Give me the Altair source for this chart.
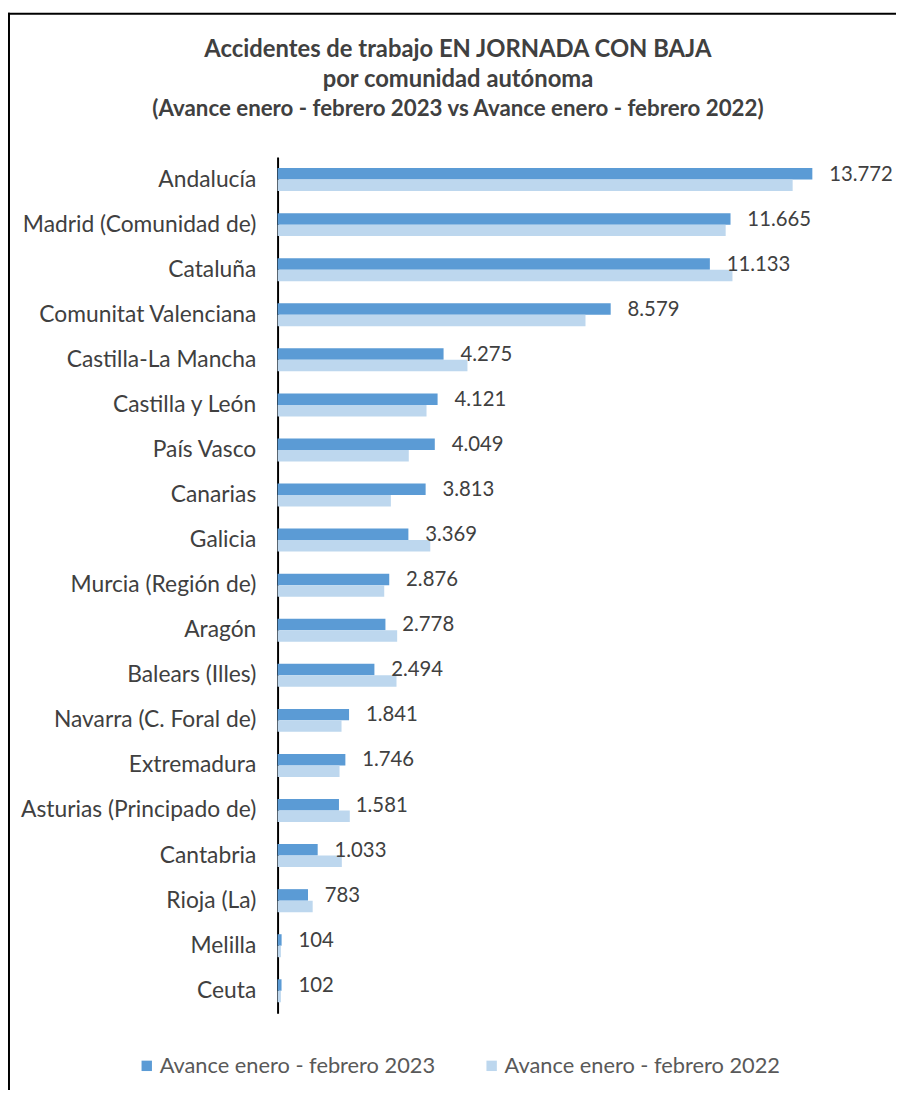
import altair as alt
import pandas as pd

categories = ["Andalucía", "Madrid (Comunidad de)", "Cataluña", "Comunitat Valenciana",
              "Castilla-La Mancha", "Castilla y León", "País Vasco", "Canarias", "Galicia",
              "Murcia (Región de)", "Aragón", "Balears (Illes)", "Navarra (C. Foral de)",
              "Extremadura", "Asturias (Principado de)", "Cantabria", "Rioja (La)",
              "Melilla", "Ceuta"]
v2023 = [13772, 11665, 11133, 8579, 4275, 4121, 4049, 3813, 3369, 2876, 2778, 2494,
         1841, 1746, 1581, 1033, 783, 104, 102]
v2022 = [13265, 11540, 11715, 7930, 4890, 3836, 3379, 2918, 3933, 2747, 3080, 3063,
         1647, 1596, 1860, 1655, 904, 85, 85]
series = ["Avance enero - febrero 2023", "Avance enero - febrero 2022"]
colors = ["#5B9BD5", "#BDD7EE"]
title_lines = ["Accidentes de trabajo EN JORNADA CON BAJA",
               "por comunidad autónoma",
               "(Avance enero - febrero 2023 vs Avance enero - febrero 2022)"]

rows = []
for c, a, b in zip(categories, v2023, v2022):
    rows.append({"cat": c, "serie": series[0], "v": a})
    rows.append({"cat": c, "serie": series[1], "v": b})
df = pd.DataFrame(rows)
lab = pd.DataFrame({"cat": categories, "v": v2023,
                    "txt": [f"{v:,}".replace(",", ".") for v in v2023]})
one = pd.DataFrame({"a": [0]})

FONT = "Lato"
W, H = 621, 864

yscale = alt.Scale(domain=categories, paddingInner=0.49, paddingOuter=0.245)
xscale = alt.Scale(domain=[0, 15850], nice=False)

bars = alt.Chart(df).mark_bar().encode(
    y=alt.Y("cat:N", scale=yscale, sort=categories,
            axis=alt.Axis(title=None, ticks=False, domain=True, domainColor="#000000",
                          domainWidth=2, labelFont=FONT, labelFontSize=23,
                          labelColor="#404040", labelPadding=22, labelLimit=400)),
    yOffset=alt.YOffset("serie:N", sort=series,
                        scale=alt.Scale(domain=series, paddingInner=0, paddingOuter=0)),
    x=alt.X("v:Q", scale=xscale, axis=None),
    color=alt.Color("serie:N", scale=alt.Scale(domain=series, range=colors),
                    legend=alt.Legend(title=None, orient="none", legendX=-143, legendY=906,
                                      direction="horizontal", symbolType="square",
                                      symbolSize=110, symbolStrokeWidth=0,
                                      labelFont=FONT, labelFontSize=22, labelColor="#595959",
                                      labelOffset=2, columnPadding=45, labelLimit=400)),
)

texts = alt.Chart(lab).mark_text(align="left", baseline="middle", dx=17, dy=-5,
                                 font=FONT, fontSize=20.5, color="#404040").encode(
    y=alt.Y("cat:N", scale=yscale, sort=categories),
    x=alt.X("v:Q", scale=xscale),
    text="txt:N",
)

def title_line(i, size, yy):
    return alt.Chart(one).mark_text(align="center", baseline="middle", font=FONT,
                                    fontSize=size, fontWeight="bold", color="#404040").encode(
        x=alt.value(182), y=alt.value(yy), text=alt.value(title_lines[i]))

t1 = title_line(0, 24, -108)
t2 = title_line(1, 24, -78)
t3 = title_line(2, 22.5, -48)

frame_top = alt.Chart(one).mark_rule(color="#000000", strokeWidth=2).encode(
    x=alt.value(-272), x2=alt.value(W + 10), y=alt.value(-144.5))
frame_left = alt.Chart(one).mark_rule(color="#000000", strokeWidth=2).encode(
    x=alt.value(-271), y=alt.value(-145.5), y2=alt.value(H + 90))

chart = alt.layer(frame_top, frame_left, t1, t2, t3, bars, texts).properties(
    width=W, height=H,
    padding={"left": 272, "top": 145.5, "right": 3, "bottom": 72},
    autosize=alt.AutoSizeParams(type="none"),
).configure_view(stroke=None)

chart.save("out.html", embed_options={"renderer": "svg", "actions": False})
